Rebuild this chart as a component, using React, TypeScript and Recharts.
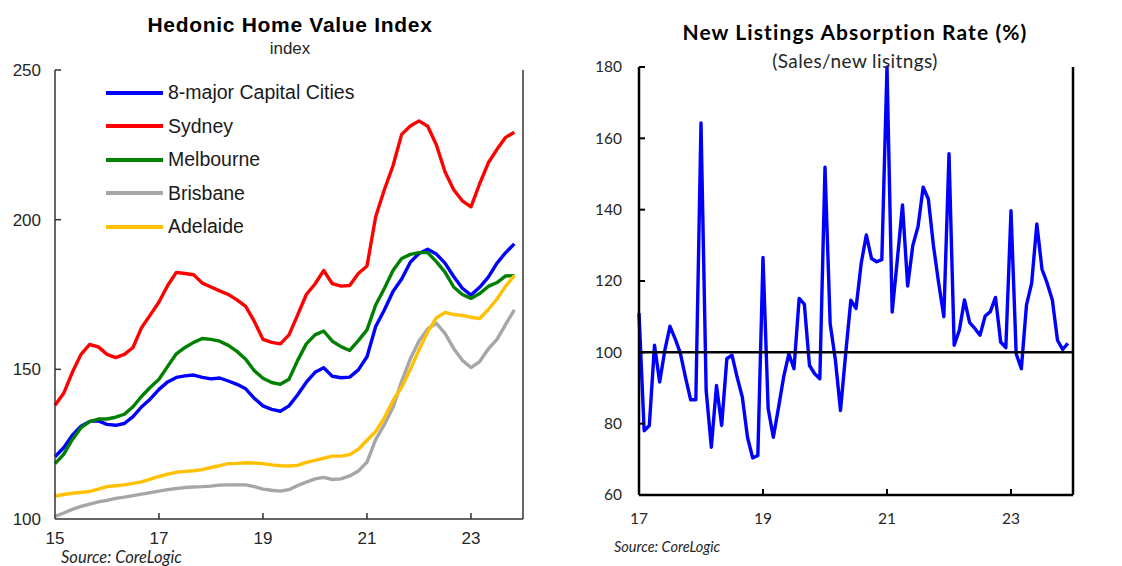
import { Legend, Line, LineChart, ReferenceLine, XAxis, YAxis } from "recharts";

// Hedonic index, every second month from Jan 2015
const hedonicStart = 2015;
const hedonicStepMonths = 2;
const capitals8 = [
  120.8, 123.8, 128, 131, 132.6, 132.8, 131.6, 131.3, 131.9, 134.2, 137.5, 140.1,
  143.3, 145.8, 147.3, 147.8, 148.1, 147.3, 146.8, 147.1, 146.1, 145, 143.5, 140.3,
  137.8, 136.6, 136, 137.8, 141.5, 145.7, 149, 150.5, 147.7, 147.2, 147.4, 149.8,
  154.2, 164.3, 169.8, 176, 180.2, 185.8, 188.7, 190.1, 188.5, 185.5, 181, 177.1,
  174.8, 177.4, 180.8, 185.5, 189, 191.9,
];
const sydney = [
  138, 142, 149, 155, 158.3, 157.5, 155, 153.9, 155, 157.3, 164, 168.2,
  172.5, 178, 182.4, 182, 181.6, 178.8, 177.5, 176.2, 175, 173.2, 171, 166,
  160, 159, 158.5, 161.5, 168.2, 175, 178.5, 183, 178.6, 177.8, 178, 182,
  184.5, 201, 210, 218, 228.5, 231.3, 233, 231.2, 225, 216, 210, 206.3,
  204.3, 212, 219, 223.5, 227.5, 229.2,
];
const melbourne = [
  118.5, 121.6, 126.5, 130.5, 132.5, 133.4, 133.4, 134, 135, 137.5, 141, 144,
  146.7, 151, 155.2, 157.3, 159, 160.3, 160, 159.4, 158, 156, 153.4, 149.5,
  147, 145.6, 145, 146.7, 153, 158.5, 161.5, 162.8, 159.4, 157.6, 156.3, 159.6,
  163.2, 171.5, 177, 183, 187, 188.4, 189, 189, 186, 182.5, 177.5, 175,
  173.7, 175.3, 177.7, 179, 181.2, 181.3,
];
const brisbane = [
  100.9, 102, 103.2, 104.2, 105, 105.7, 106.2, 106.9, 107.3, 107.8, 108.3, 108.8,
  109.3, 109.8, 110.2, 110.5, 110.7, 110.8, 111, 111.3, 111.4, 111.4, 111.4, 110.8,
  110, 109.6, 109.3, 109.8, 111.2, 112.3, 113.4, 113.9, 113.2, 113.4, 114.4, 116,
  119, 126.5, 131.5, 137.3, 146, 153.5, 159.5, 163.5, 165.4, 162, 157, 153,
  150.6, 152.6, 156.8, 160, 165, 169.9,
];
const adelaide = [
  107.7, 108.2, 108.6, 108.9, 109.2, 110, 110.8, 111.1, 111.4, 111.9, 112.4, 113.3,
  114.2, 115, 115.6, 115.9, 116.1, 116.5, 117.2, 117.8, 118.5, 118.6, 118.8, 118.7,
  118.5, 118.1, 117.8, 117.7, 117.9, 118.9, 119.6, 120.3, 121, 121, 121.5, 123.3,
  126.3, 129.2, 133.8, 139.5, 144, 150, 156.5, 162.5, 167.2, 169, 168.3, 168,
  167.4, 167, 170, 173.5, 177.8, 181.3,
];
const hedonicXTicks = [2015, 2017, 2019, 2021, 2023];
const hedonicYTicks = [100, 150, 200, 250];

// Absorption rate, monthly from Jan 2017
const absorptionStart = 2017;
const absorption = [
  111, 78, 79.5, 102, 91.7, 100.6, 107.3, 103.8, 99.8, 93, 86.7, 86.7,
  164.3, 89.3, 73.4, 90.7, 79.5, 98.2, 99.2, 93, 87.4, 76.2, 70.4, 71.1,
  126.6, 84.2, 76.2, 84.5, 93.1, 99.6, 95.4, 115.1, 113.5, 96.3, 94, 92.6,
  151.9, 108, 98, 83.7, 99.6, 114.6, 112.3, 124.9, 132.9, 126.3, 125.4, 126,
  180, 111.3, 126, 141.3, 118.6, 130, 135.2, 146.3, 143, 129.8, 119.4, 110,
  155.7, 102, 106.2, 114.7, 108.3, 106.7, 104.8, 110.2, 111.4, 115.4, 102.9, 101.3,
  139.7, 99.6, 95.4, 113.3, 119.4, 136, 123.3, 119.4, 114.7, 103.4, 100.8, 102.5,
];
const absorptionXTicks = [2017, 2019, 2021, 2023];
const absorptionYTicks = [60, 80, 100, 120, 140, 160, 180];

const series = [
  { key: "capitals8", name: "8-major Capital Cities", color: "#0000FF", values: capitals8 },
  { key: "sydney", name: "Sydney", color: "#FF0000", values: sydney },
  { key: "melbourne", name: "Melbourne", color: "#008000", values: melbourne },
  { key: "brisbane", name: "Brisbane", color: "#A6A6A6", values: brisbane },
  { key: "adelaide", name: "Adelaide", color: "#FFC000", values: adelaide },
];

const hedonicRows = capitals8.map((_, i) => {
  const row: Record<string, number> = { t: hedonicStart + (i * hedonicStepMonths) / 12 };
  series.forEach((s) => (row[s.key] = s.values[i]));
  return row;
});
const absorptionRows = absorption.map((v, i) => ({ t: absorptionStart + i / 12, rate: v }));

const ARIAL = "'Liberation Sans', Arial, sans-serif";
const CALIBRI = "Lato, 'Open Sans', sans-serif";

// left chart plot box (chart-local coords)
const L = { left: 55, right: 523, top: 70, bottom: 519 };
// right chart plot box (chart-local coords, chart sits at x=560)
const R = { left: 79, right: 513, top: 67, bottom: 495 };

function yTick(axisX: number, side: 1 | -1, gap: number, len: number, font: string, size: number, stroke: string, sw: number, skip: number) {
  return (p: any) => (
    <g>
      {p.payload.value !== skip && (
        <line x1={axisX} x2={axisX + side * len} y1={p.y} y2={p.y} stroke={stroke} strokeWidth={sw} />
      )}
      <text x={axisX - side * gap} y={p.y} dy="0.35em" textAnchor={side === 1 ? "end" : "start"} fontFamily={font} fontSize={size} fill="#262626">
        {p.payload.value}
      </text>
    </g>
  );
}

function xTick(axisY: number, gap: number, len: number, font: string, size: number, stroke: string, sw: number, skip: number) {
  return (p: any) => (
    <g>
      {p.payload.value !== skip && (
        <line x1={p.x} x2={p.x} y1={axisY} y2={axisY - len} stroke={stroke} strokeWidth={sw} />
      )}
      <text x={p.x} y={axisY + gap} dy="0.71em" textAnchor="middle" fontFamily={font} fontSize={size} fill="#262626">
        {String(p.payload.value - 2000)}
      </text>
    </g>
  );
}

function HedonicLegend() {
  return (
    <div style={{ fontFamily: ARIAL }}>
      {series.map((s) => (
        <div key={s.key} style={{ display: "flex", alignItems: "center", height: 33.5 }}>
          <span style={{ display: "inline-block", width: 57, height: 4, background: s.color, marginRight: 5 }} />
          <span style={{ fontSize: 19.5, color: "#1a1a1a" }}>{s.name}</span>
        </div>
      ))}
    </div>
  );
}

function HedonicChart() {
  const axisLine = { stroke: "#333", strokeWidth: 1.5 };
  return (
    <LineChart width={580} height={566} data={hedonicRows} margin={{ top: L.top, right: 0, bottom: 17, left: 0 }}>
      <XAxis dataKey="t" type="number" domain={[2015, 2024]} ticks={hedonicXTicks} interval={0} height={30}
        axisLine={axisLine} tickLine={false} tick={xTick(L.bottom, 13, 6, ARIAL, 17, "#333", 1.5, 2015)} />
      <YAxis yAxisId="l" domain={[100, 250]} ticks={hedonicYTicks} interval={0} width={L.left}
        axisLine={axisLine} tickLine={false} tick={yTick(L.left, 1, 14, 6, ARIAL, 17, "#333", 1.5, 100)} />
      <YAxis yAxisId="r" orientation="right" domain={[100, 250]} ticks={hedonicYTicks} interval={0} width={580 - L.right}
        axisLine={axisLine} tickLine={false} tick={yTick(L.right, -1, 14, 6, ARIAL, 17, "#333", 1.5, 100)} />
      {series.map((s) => (
        <Line key={s.key} yAxisId="l" dataKey={s.key} name={s.name} stroke={s.color} strokeWidth={3.4}
          dot={false} type="linear" strokeLinejoin="round" isAnimationActive={false} />
      ))}
      <Legend layout="vertical" align="center" verticalAlign="middle" content={() => <HedonicLegend />}
        wrapperStyle={{ left: 106, top: 76, width: 320 }} />
    </LineChart>
  );
}

function AbsorptionChart() {
  const axisLine = { stroke: "#000", strokeWidth: 2.5 };
  return (
    <LineChart width={562} height={566} data={absorptionRows} margin={{ top: R.top, right: 0, bottom: 41, left: 0 }}>
      <XAxis dataKey="t" type="number" domain={[2017, 2024]} ticks={absorptionXTicks} interval={0} height={30}
        axisLine={axisLine} tickLine={false} tick={xTick(R.bottom, 18, 6, CALIBRI, 15.5, "#000", 2, 2017)} />
      <YAxis yAxisId="l" domain={[60, 180]} ticks={absorptionYTicks} interval={0} width={R.left}
        axisLine={axisLine} tickLine={false} tick={yTick(R.left, 1, 17, 6, CALIBRI, 15.5, "#000", 2, 60)} />
      <YAxis yAxisId="r" orientation="right" domain={[60, 180]} ticks={absorptionYTicks} interval={0} width={562 - R.right}
        axisLine={axisLine} tickLine={false} tick={yTick(R.right, -1, 20, 6, CALIBRI, 15.5, "#000", 2, 60)} />
      <Line yAxisId="l" dataKey="rate" stroke="#0000FF" strokeWidth={3.4} dot={false} type="linear"
        strokeLinejoin="round" isAnimationActive={false} />
      <ReferenceLine yAxisId="l" y={100} stroke="#000" strokeWidth={2.5} />
    </LineChart>
  );
}

export default function App() {
  const abs = (x: number, y: number, extra: React.CSSProperties = {}): React.CSSProperties => ({
    position: "absolute", left: x, top: y, whiteSpace: "nowrap", ...extra,
  });
  return (
    <div style={{ position: "absolute", left: 0, top: 0, width: 1122, height: 566, background: "#fff", overflow: "hidden" }}>
      <div style={abs(0, 0)}><HedonicChart /></div>
      <div style={abs(560, 0)}><AbsorptionChart /></div>

      <div style={abs(90, 13, { width: 400, textAlign: "center", fontFamily: ARIAL, fontWeight: 700, fontSize: 21, letterSpacing: 0.7, color: "#000" })}>
        Hedonic Home Value Index
      </div>
      <div style={abs(190, 39, { width: 200, textAlign: "center", fontFamily: ARIAL, fontSize: 17, color: "#262626" })}>index</div>
      <div style={abs(61, 547, { fontFamily: CALIBRI, fontStyle: "italic", fontSize: 16.5, color: "#262626" })}>Source: CoreLogic</div>

      <div style={abs(655, 19, { width: 400, textAlign: "center", fontFamily: CALIBRI, fontWeight: 700, fontSize: 21, letterSpacing: 1.1, color: "#000" })}>
        New Listings Absorption Rate (%)
      </div>
      <div style={abs(705, 49, { width: 300, textAlign: "center", fontFamily: CALIBRI, fontSize: 19, letterSpacing: 0.4, color: "#262626" })}>
        (Sales/new lisitngs)
      </div>
      <div style={abs(614, 538, { fontFamily: CALIBRI, fontStyle: "italic", fontSize: 14.5, color: "#262626" })}>Source: CoreLogic</div>
    </div>
  );
}
